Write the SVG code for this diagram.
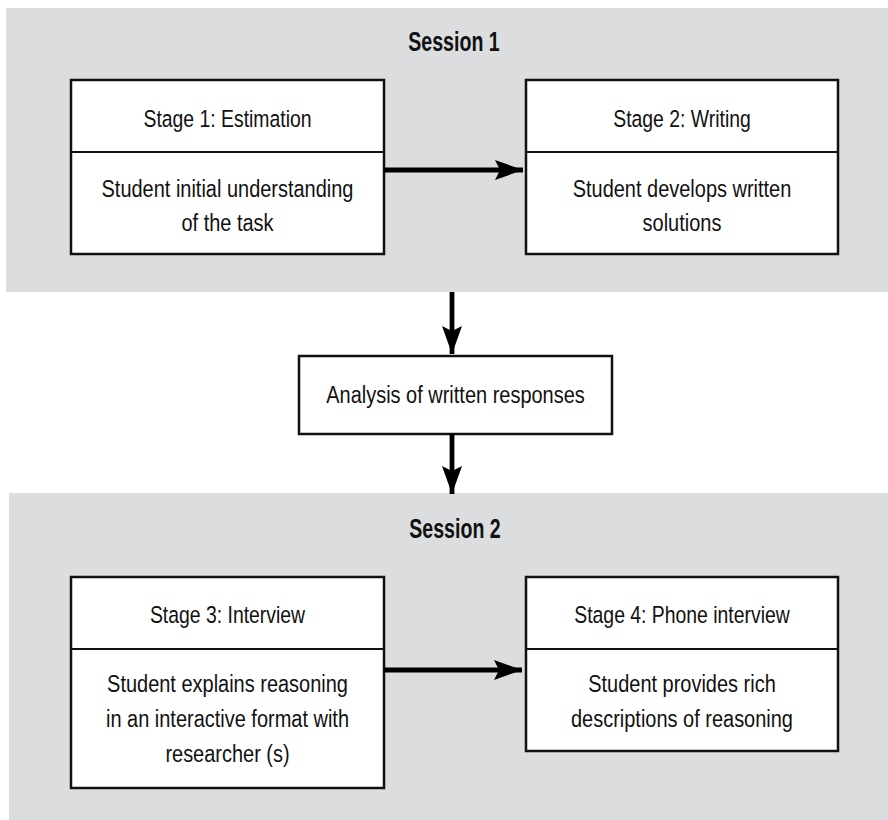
<svg xmlns="http://www.w3.org/2000/svg" width="888" height="820" viewBox="0 0 888 820">
<defs>
<style>
.panel{fill:#dcdddf;stroke:none}
.box{fill:#ffffff;stroke:#111;stroke-width:2.5}
.div{stroke:#111;stroke-width:2.2}
.title{font-family:"Liberation Sans",Arial,sans-serif;font-weight:bold;font-size:28px;fill:#111;text-anchor:middle}
.head{font-family:"Liberation Sans",Arial,sans-serif;font-size:23.5px;fill:#111;text-anchor:middle}
.body{font-family:"Liberation Sans",Arial,sans-serif;font-size:23.5px;fill:#111;text-anchor:middle}
.conn{stroke:#000;stroke-width:4.8;fill:none}
</style>
<marker id="ah" markerUnits="userSpaceOnUse" markerWidth="30" markerHeight="22" viewBox="-29 -11 30 22" refX="0" refY="0" orient="auto">
<path d="M0,0 L-28,-10 L-23,0 L-28,10 Z" fill="#000"/>
</marker>
</defs>
<rect x="0" y="0" width="888" height="820" fill="#ffffff"/>
<g id="session1">
<rect class="panel" x="6" y="8" width="882" height="284"/>
<g transform="translate(454 0) scale(0.7 1)"><text class="title" x="0" y="51">Session 1</text></g>
</g>
<g id="session2">
<rect class="panel" x="9" y="493" width="879" height="327"/>
<g transform="translate(455 0) scale(0.7 1)"><text class="title" x="0" y="538">Session 2</text></g>
</g>
<g id="stage1">
<rect class="box" x="71" y="80" width="313" height="174"/>
<line class="div" x1="71" y1="152" x2="384" y2="152"/>
<g transform="translate(227.5 0) scale(0.825 1)"><text class="head" x="0" y="127">Stage 1: Estimation</text></g>
<g transform="translate(227.5 0) scale(0.85 1)">
<text class="body" x="0" y="197">Student initial understanding</text>
<text class="body" x="0" y="231">of the task</text>
</g>
</g>
<g id="stage2">
<rect class="box" x="526" y="80" width="312" height="174"/>
<line class="div" x1="526" y1="152" x2="838" y2="152"/>
<g transform="translate(682 0) scale(0.825 1)"><text class="head" x="0" y="127">Stage 2: Writing</text></g>
<g transform="translate(682 0) scale(0.85 1)">
<text class="body" x="0" y="197">Student develops written</text>
<text class="body" x="0" y="231">solutions</text>
</g>
</g>
<g id="analysis">
<rect class="box" x="299" y="356" width="313" height="78"/>
<g transform="translate(455.5 0) scale(0.85 1)"><text class="body" x="0" y="403">Analysis of written responses</text></g>
</g>
<g id="stage3">
<rect class="box" x="71" y="577" width="313" height="211"/>
<line class="div" x1="71" y1="649" x2="384" y2="649"/>
<g transform="translate(227.5 0) scale(0.825 1)"><text class="head" x="0" y="623">Stage 3: Interview</text></g>
<g transform="translate(227.5 0) scale(0.85 1)">
<text class="body" x="0" y="692">Student explains reasoning</text>
<text class="body" x="0" y="727">in an interactive format with</text>
<text class="body" x="0" y="762">researcher (s)</text>
</g>
</g>
<g id="stage4">
<rect class="box" x="526" y="577" width="312" height="174"/>
<line class="div" x1="526" y1="649" x2="838" y2="649"/>
<g transform="translate(682 0) scale(0.825 1)"><text class="head" x="0" y="623">Stage 4: Phone interview</text></g>
<g transform="translate(682 0) scale(0.85 1)">
<text class="body" x="0" y="692">Student provides rich</text>
<text class="body" x="0" y="727">descriptions of reasoning</text>
</g>
</g>
<g id="connectors">
<line class="conn" x1="384" y1="170" x2="523" y2="170" marker-end="url(#ah)"/>
<line class="conn" x1="452" y1="292" x2="452" y2="354" marker-end="url(#ah)"/>
<line class="conn" x1="452" y1="434" x2="452" y2="494" marker-end="url(#ah)"/>
<line class="conn" x1="384" y1="670" x2="522" y2="670" marker-end="url(#ah)"/>
</g>
</svg>
